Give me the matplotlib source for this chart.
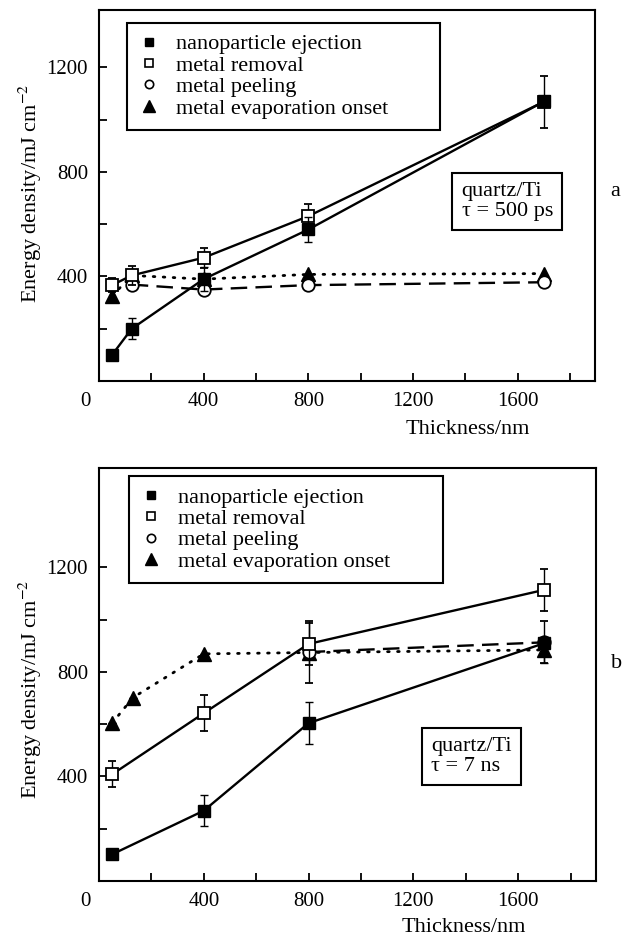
import numpy as np
import matplotlib
matplotlib.use("Agg")
import matplotlib.pyplot as plt
from matplotlib.lines import Line2D

plt.rcParams['font.family'] = ['Liberation Serif', 'DejaVu Serif']
plt.rcParams['mathtext.fontset'] = 'stix'

# ---- panel a : tau = 500 ps ----
a_eject_x = [50, 125, 400, 800, 1700]
a_eject_y = [100, 200, 390, 580, 1070]
a_eject_err = [0, 40, 45, 48, 0]

a_remove_x = [50, 125, 400, 800, 1700]
a_remove_y = [367, 404, 472, 631, 1069]
a_remove_err = [28, 35, 38, 48, 100]

a_peel_x = [125, 400, 800, 1700]
a_peel_y = [369, 350, 367, 378]

a_evap_x = [50, 125, 400, 800, 1700]
a_evap_y = [325, 404, 390, 408, 411]

# ---- panel b : tau = 7 ns ----
b_eject_x = [50, 400, 800, 1700]
b_eject_y = [102, 269, 604, 910]
b_eject_err = [0, 60, 80, 0]

b_remove_x = [50, 400, 800, 1700]
b_remove_y = [408, 642, 907, 1114]
b_remove_err = [50, 70, 80, 80]

b_peel_x = [800, 1700]
b_peel_y = [876, 913]
b_peel_err = [120, 80]

b_evap_x = [50, 130, 400, 800, 1700]
b_evap_y = [604, 702, 869, 874, 884]
b_evap_err = [0, 0, 0, 0, 50]

labels = ['nanoparticle ejection', 'metal removal', 'metal peeling',
          'metal evaporation onset']

FS = 16
TFS = 15
dashed = (0, (7, 3.5))
dotted = (0, (0.6, 3.0))

fig = plt.figure(figsize=(6.29, 9.41), dpi=100)


def setup(ax, ymax):
    ax.set_xlim(0, 1895)
    ax.set_ylim(0, ymax)
    ax.set_xticks(np.arange(200, 1801, 200))
    ax.set_xticklabels(['' if v % 400 else str(v) for v in range(200, 1801, 200)])
    ax.set_yticks([400, 800, 1200])
    ax.set_yticks([200, 600, 1000], minor=True)
    ax.tick_params(which='both', direction='in', top=False, right=False,
                   length=6, width=1.3, labelsize=TFS)
    ax.tick_params(axis='x', pad=8)
    ax.tick_params(axis='y', pad=8)
    for s in ax.spines.values():
        s.set_linewidth(1.5)
    ax.annotate('0', xy=(0, 0), xycoords='axes fraction', xytext=(-14, -21),
                textcoords='offset pixels', ha='center', va='center', fontsize=TFS)


def legend(ax, x0, ytop):
    h = [Line2D([], [], marker='s', color='k', ls='none', markersize=6),
         Line2D([], [], marker='s', color='k', mfc='white', ls='none', markersize=6, mew=1.2),
         Line2D([], [], marker='o', color='k', mfc='white', ls='none', markersize=6, mew=1.2),
         Line2D([], [], marker='^', color='k', ls='none', markersize=8)]
    leg = ax.legend(h, labels, loc='upper left', bbox_to_anchor=(x0, ytop, 0.632, 0.0),
                    mode='expand', fontsize=FS, frameon=True, fancybox=False,
                    edgecolor='k', framealpha=1, borderpad=0.5, labelspacing=0.04,
                    handlelength=1.0, handletextpad=0.7, borderaxespad=0)
    leg.get_frame().set_linewidth(1.5)


def draw(ax, ej, rm, pl, ev):
    kw = dict(color='k', lw=1.7, capsize=3, elinewidth=1.0, capthick=1.0, markersize=9)
    ax.errorbar(ev[0], ev[1], yerr=ev[2], marker='^', ls=dotted, dash_capstyle='round',
                markersize=10, color='k', lw=2.0, capsize=3, elinewidth=1.0, capthick=1.0, zorder=2)
    ax.errorbar(pl[0], pl[1], yerr=pl[2], marker='o', mfc='white', mew=1.3, ls=dashed,
                zorder=3, **kw)
    ax.errorbar(rm[0], rm[1], yerr=rm[2], marker='s', mfc='white', mew=1.3, ls='-',
                zorder=4, **kw)
    ax.errorbar(ej[0], ej[1], yerr=ej[2], marker='s', ls='-', zorder=5, **kw)


# top panel
ax1 = fig.add_axes([99 / 629, 1 - 381 / 941, 496 / 629, 371 / 941])
setup(ax1, 1420)
draw(ax1, (a_eject_x, a_eject_y, a_eject_err), (a_remove_x, a_remove_y, a_remove_err),
     (a_peel_x, a_peel_y, None), (a_evap_x, a_evap_y, None))
legend(ax1, 0.0565, 0.966)
ax1.text(0.731, 0.484, 'quartz/Ti\n\u03c4 = 500 ps', transform=ax1.transAxes,
         ha='left', va='center', fontsize=FS, linespacing=1.05,
         bbox=dict(boxstyle='square,pad=0.42', fc='white', ec='k', lw=1.5))

# bottom panel
ax2 = fig.add_axes([99 / 629, 1 - 881 / 941, 496.5 / 629, 413 / 941])
setup(ax2, 1580)
draw(ax2, (b_eject_x, b_eject_y, b_eject_err), (b_remove_x, b_remove_y, b_remove_err),
     (b_peel_x, b_peel_y, b_peel_err), (b_evap_x, b_evap_y, b_evap_err))
legend(ax2, 0.060, 0.981)
ax2.text(0.669, 0.301, 'quartz/Ti\n\u03c4 = 7 ns', transform=ax2.transAxes,
         ha='left', va='center', fontsize=FS, linespacing=1.05,
         bbox=dict(boxstyle='square,pad=0.42', fc='white', ec='k', lw=1.5))

ylab = 'Energy density/mJ cm$^{-2}$'
fig.text(30 / 629, 1 - 193 / 941, ylab, rotation=90, ha='center', va='center', fontsize=FS)
fig.text(30 / 629, 1 - 689 / 941, ylab, rotation=90, ha='center', va='center', fontsize=FS)
fig.text(468 / 629, 1 - 430 / 941, 'Thickness/nm', ha='center', va='center', fontsize=FS)
fig.text(464 / 629, 1 - 928 / 941, 'Thickness/nm', ha='center', va='center', fontsize=FS)
fig.text(615 / 629, 1 - 192 / 941, 'a', ha='center', va='center', fontsize=FS)
fig.text(617 / 629, 1 - 663 / 941, 'b', ha='center', va='center', fontsize=FS)

fig.savefig('out.png', dpi=100)
